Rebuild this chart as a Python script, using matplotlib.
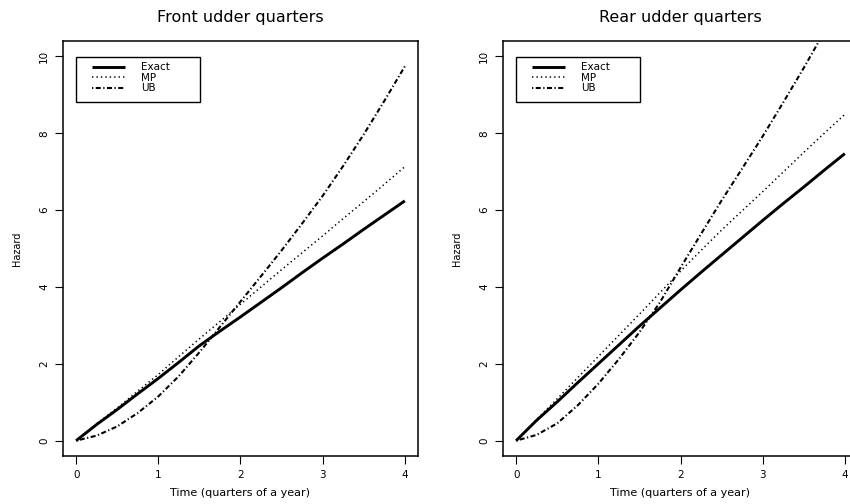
import matplotlib
matplotlib.use("Agg")
import matplotlib.pyplot as plt
from matplotlib.patches import Rectangle

plt.rcParams['font.family'] = ['DejaVu Sans']

# time grid (quarters of a year)
t = [0, 0.25, 0.5, 0.75, 1, 1.25, 1.5, 1.75, 2, 2.25, 2.5, 2.75, 3, 3.25, 3.5, 3.75, 4]

# front udder quarters
front_exact = [0, 0.42, 0.81, 1.22, 1.62, 2.04, 2.47, 2.85, 3.22, 3.60, 3.98, 4.37, 4.75, 5.12, 5.50, 5.87, 6.24]
front_mp = [0, 0.44, 0.85, 1.29, 1.72, 2.19, 2.65, 3.10, 3.55, 4.00, 4.45, 4.89, 5.33, 5.78, 6.22, 6.67, 7.13]
front_ub = [0, 0.13, 0.37, 0.72, 1.15, 1.68, 2.30, 2.96, 3.62, 4.28, 4.95, 5.65, 6.37, 7.15, 7.97, 8.84, 9.74]

# rear udder quarters
rear_exact = [0, 0.53, 1.01, 1.51, 2.00, 2.49, 2.98, 3.45, 3.92, 4.38, 4.83, 5.28, 5.73, 6.17, 6.60, 7.04, 7.47]
rear_mp = [0, 0.55, 1.09, 1.64, 2.19, 2.74, 3.29, 3.85, 4.41, 4.95, 5.48, 5.98, 6.48, 6.99, 7.50, 8.00, 8.49]
rear_ub = [0, 0.15, 0.45, 0.92, 1.48, 2.12, 2.82, 3.60, 4.50, 5.38, 6.25, 7.08, 7.92, 8.80, 9.70, 10.64, 11.60]

titles = ["Front udder quarters", "Rear udder quarters"]
labels = ["Exact", "MP", "UB"]

fig = plt.figure(figsize=(8.5, 5.04), dpi=100)
ax1 = fig.add_axes([63/850, 48/504, 355/850, 415/504])
ax2 = fig.add_axes([503/850, 48/504, 355/850, 415/504])

panels = [(ax1, front_exact, front_mp, front_ub),
          (ax2, rear_exact, rear_mp, rear_ub)]

for i, (ax, ex, mp, ub) in enumerate(panels):
    ax.plot(t, ex, color='black', lw=2.1, solid_capstyle='butt', label=labels[0])
    ax.plot(t, mp, color='black', lw=1.1, linestyle=(0, (0.9, 2.0)), label=labels[1])
    ax.plot(t, ub, color='black', lw=1.5, linestyle=(0, (0.6, 1.2, 2.4, 1.2)), label=labels[2])

    ax.set_xlim(-0.16, 4.16)
    ax.set_ylim(-0.4, 10.4)
    ax.set_xticks([0, 1, 2, 3, 4])
    ax.set_yticks([0, 2, 4, 6, 8, 10])
    ax.tick_params(direction='out', length=6, width=0.8, labelsize=7.5, pad=4)
    for lab in ax.get_yticklabels():
        lab.set_rotation(90)
        lab.set_va('center')
    for s in ax.spines.values():
        s.set_linewidth(1.1)

    ax.set_title(titles[i], fontsize=11.5, pad=14)
    ax.set_xlabel("Time (quarters of a year)", fontsize=8, labelpad=6)
    ax.set_ylabel("Hazard", fontsize=7, labelpad=12)

    ax.legend(loc='upper left', bbox_to_anchor=(0.082, 0.949), frameon=False,
              fontsize=7.5, handlelength=3.2, handletextpad=1.5,
              labelspacing=0.05, borderpad=0, borderaxespad=0)
    ax.add_patch(Rectangle((13/355, (456-102)/415), 124/355, 45/415,
                           transform=ax.transAxes, fill=False,
                           edgecolor='black', lw=1.0, zorder=5))

fig.savefig("out.png", dpi=100)
